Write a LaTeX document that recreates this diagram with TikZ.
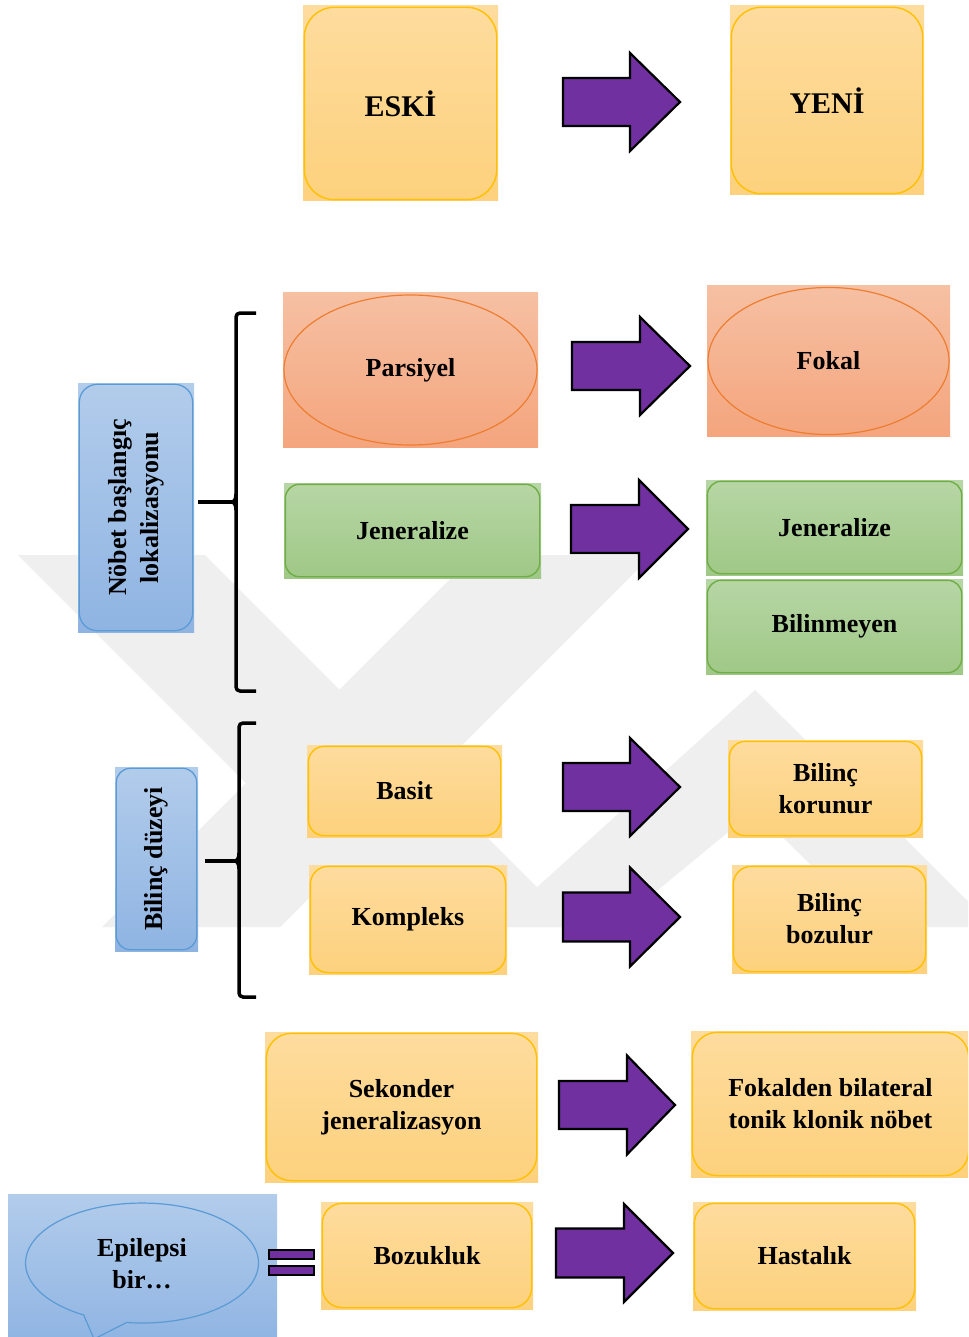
\documentclass[tikz,border=0pt]{standalone}
\usepackage{fontspec}
\setmainfont{Liberation Serif}
\usetikzlibrary{fit}

\definecolor{goldtop}{HTML}{FEDC9E}
\definecolor{goldbot}{HTML}{FDD17D}
\definecolor{goldedge}{HTML}{FFC000}
\definecolor{greentop}{HTML}{B7D6A5}
\definecolor{greenbot}{HTML}{9FC886}
\definecolor{greenedge}{HTML}{70AD47}
\definecolor{salmontop}{HTML}{F6C0A3}
\definecolor{salmonbot}{HTML}{F4A57D}
\definecolor{salmonedge}{HTML}{ED7D31}
\definecolor{bluetop}{HTML}{B2CCEB}
\definecolor{bluebot}{HTML}{8FB4E2}
\definecolor{blueedge}{HTML}{5B9BD5}
\definecolor{arrowfill}{HTML}{7030A0}
\definecolor{wmark}{HTML}{EFEFEF}

% filled box with an inset rounded outline and a centred label:
% style, name, x1, y1, x2, y2, radius, text
\newcommand\panel[8]{%
  \node[#1fill, fit={(#3,#4) (#5,#6)}] (#2) {};
  \draw[#1line, rounded corners=#7pt]
    ([shift={(1.5pt,-1.5pt)}]#2.north west) rectangle ([shift={(-1.5pt,1.5pt)}]#2.south east);
  \node[lbl] (#2txt) at (#2.center) {#8};}

% block arrow: left x, head base x, tip x, centre y, half body, half head
\newcommand\fatarrow[6]{%
  \draw[blockarrow] (#1,#4-#5) -- (#2,#4-#5) -- (#2,#4-#6) -- (#3,#4)
    -- (#2,#4+#6) -- (#2,#4+#5) -- (#1,#4+#5) -- cycle;}

\begin{document}
\begin{tikzpicture}[x=1pt,y=-1pt,
  lbl/.style={font=\fontsize{26}{32}\selectfont\bfseries, align=center, text=black, inner sep=0pt},
  goldfill/.style={inner sep=0pt, top color=goldtop, bottom color=goldbot},
  goldline/.style={draw=goldedge, line width=1.4pt},
  greenfill/.style={inner sep=0pt, top color=greentop, bottom color=greenbot},
  greenline/.style={draw=greenedge, line width=1.4pt},
  salmonfill/.style={inner sep=0pt, top color=salmontop, bottom color=salmonbot},
  salmonline/.style={draw=salmonedge, line width=1.2pt},
  bluefill/.style={inner sep=0pt, top color=bluetop, bottom color=bluebot},
  blueline/.style={draw=blueedge, line width=1.3pt},
  blockarrow/.style={fill=arrowfill, draw=black, line width=2.2pt, line join=miter},
  eqbar/.style={fill=arrowfill, draw=black, line width=1.5pt},
  brace/.style={draw=black, line width=3.5pt}]

\useasboundingbox (0,0) rectangle (968,1337);
\clip (0,0) rectangle (968,1337);
\fill[white] (0,0) rectangle (968,1337);

% faint emblem in the background
\begin{scope}
  \clip (0,555) rectangle (968,927);
  \fill[wmark] (18,555) -- (205,555) -- (577,927) -- (390,927) -- cycle;
  \fill[wmark] (474,555) -- (652,555) -- (280,927) -- (102,927) -- cycle;
  \fill[wmark] (493,927) -- (755,690) -- (994,927) -- (874,927) -- (755,810) -- (613,927) -- cycle;
\end{scope}

% top row
\panel{gold}{eski}{303}{6}{498}{201}{30}{\fontsize{30}{36}\selectfont ESKİ}
\panel{gold}{yeni}{730}{6}{924}{195}{30}{\fontsize{30}{36}\selectfont YENİ}
\fatarrow{563}{630}{680}{102}{24}{49}

% onset localisation group
\panel{blue}{nob}{78}{383}{194}{632}{18}{}
\node[lbl, rotate=90] (nobtxt) at (nob.center) {Nöbet başlangıç\\lokalizasyonu};

\node[salmonfill, fit={(283,293) (538,447)}] (pars) {};
\draw[salmonline] (pars.center) ellipse [x radius=126.5pt, y radius=75pt];
\node[lbl] (parstxt) at (pars.center) {Parsiyel};
\node[salmonfill, fit={(707,286) (950,436)}] (fokal) {};
\draw[salmonline] (fokal.center) ellipse [x radius=120.5pt, y radius=73.5pt];
\node[lbl] (fokaltxt) at (fokal.center) {Fokal};
\fatarrow{572}{640}{690}{366}{24}{49}

\panel{green}{jenL}{284}{483}{541}{578}{14}{Jeneralize}
\panel{green}{jenR}{706}{480}{963}{575}{14}{Jeneralize}
\panel{green}{bilinm}{706}{579}{963}{674}{14}{Bilinmeyen}
\fatarrow{571}{639}{688}{529}{24}{49}

\coordinate (b1tip) at (231,502);
\draw[brace, rounded corners=4pt] (256,313) -- (236,313) -- (236,691) -- (256,691);
\draw[brace] ([xshift=4pt]nob.east |- b1tip) -- (b1tip);
\draw[brace] (236,494) .. controls (236,500) and (234,502) .. (b1tip)
  .. controls (234,502) and (236,504) .. (236,510);

% consciousness group
\panel{blue}{bilincd}{115}{767}{198}{951}{14}{}
\node[lbl, rotate=90] (bilincdtxt) at (bilincd.center) {Bilinç düzeyi};

\panel{gold}{basit}{307}{745}{502}{837}{16}{Basit}
\panel{gold}{komp}{309}{865}{507}{974}{18}{Kompleks}
\panel{gold}{kor}{728}{740}{923}{837}{16}{Bilinç\\korunur}
\panel{gold}{boz}{732}{865}{927}{973}{18}{Bilinç\\bozulur}
\fatarrow{563}{630}{680}{787}{24}{49}
\fatarrow{563}{630}{680}{917}{24.5}{49.5}

\coordinate (b2tip) at (234,861);
\draw[brace, rounded corners=4pt] (256,723) -- (239,723) -- (239,997) -- (256,997);
\draw[brace] ([xshift=7pt]bilincd.east |- b2tip) -- (b2tip);
\draw[brace] (239,853) .. controls (239,859) and (237,861) .. (b2tip)
  .. controls (237,861) and (239,863) .. (239,869);

% secondary generalisation
\panel{gold}{sek}{265}{1032}{538}{1182}{25}{Sekonder\\jeneralizasyon}
\panel{gold}{fokb}{691}{1031}{970}{1177}{25}{Fokalden bilateral\\tonik klonik nöbet}
\fatarrow{559}{627}{675}{1105}{24}{49.5}

% bottom row
\node[bluefill, fit={(8,1194) (277,1345)}] (epibg) {};
\draw[blueline, line width=1.2pt] (126.6,1322.5)
  arc[start angle=262.4, end angle=600, x radius=116.5pt, y radius=60pt]
  -- (94,1339) -- cycle;
\node[lbl] (epitxt) at (142,1264) {Epilepsi\\bir…};

\draw[eqbar] (269,1250) rectangle (314,1259);
\draw[eqbar] (269,1266) rectangle (314,1275);

\panel{gold}{bozuk}{321}{1202}{533}{1309}{20}{Bozukluk}
\panel{gold}{hast}{693}{1202}{916}{1310}{20}{Hastalık}
\fatarrow{556}{624}{673}{1253}{24.5}{49}

\end{tikzpicture}
\end{document}
